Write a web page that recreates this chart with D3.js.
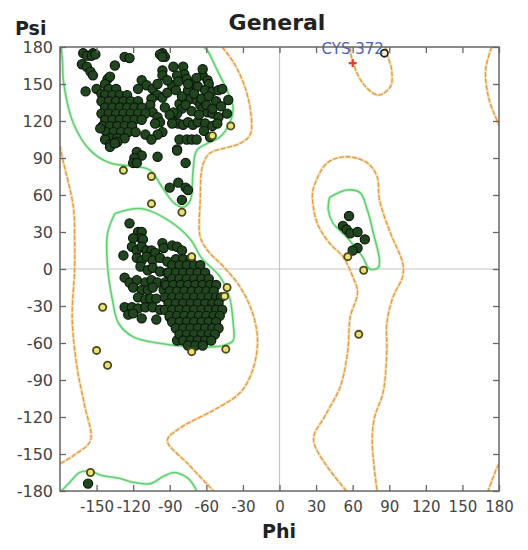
<!DOCTYPE html>
<html><head><meta charset="utf-8">
<script src="https://cdn.jsdelivr.net/npm/d3@7"></script>
<style>body{margin:0;background:#fff}svg{display:block}</style>
</head><body>
<svg id="c" width="528" height="550"></svg>
<script>
// ---------- data (phi, psi in degrees) ----------
const xTicks = [-150,-120,-90,-60,-30,0,30,60,90,120,150,180];
const yTicks = [-180,-150,-120,-90,-60,-30,0,30,60,90,120,150,180];
const allTicks = [-180,-150,-120,-90,-60,-30,0,30,60,90,120,150,180];

const greenBeta = [[-62,180],[-59,177],[-51,161],[-43,145],[-38,131],[-41,118],[-49,107],[-59,102],[-68,96],[-71,78],[-73,56],[-79,50],[-87,54],[-96,66],[-106,80],[-117,83],[-139,86],[-155,96],[-169,118],[-177,151],[-178,168],[-179,180]];
const greenBetaBottom = [[-179,-180],[-172,-173],[-164,-165],[-155,-164],[-147,-167],[-130,-170],[-120,-173],[-106,-174],[-95,-168],[-87,-165],[-76,-169],[-70,-176],[-68,-180]];
const greenAlpha = [[-135,45],[-114,49],[-92,40],[-73,24],[-64,9],[-49,-6],[-41,-23],[-38,-44],[-38,-58],[-46,-62],[-73,-63],[-100,-60],[-120,-55],[-132,-44],[-137,-25],[-141,2],[-141,29],[-135,45]];
const greenAlphaL = [[41,58],[55,64],[66,62],[72,48],[77,29],[82,7],[81,1],[74,0],[68,10],[55,26],[44,37],[40,48],[41,58]];

const orangeMain = [[-47,180],[-38,168],[-30,152],[-24,130],[-24,109],[-32,102],[-41,99],[-57,94],[-63,84],[-65,56],[-65,26],[-59,15],[-46,2],[-32,-15],[-22,-36],[-18,-58],[-22,-82],[-32,-100],[-55,-115],[-80,-128],[-92,-139],[-75,-158],[-54,-180]];
const orangeLeftEdge = [[-180,100],[-178,90],[-169,50],[-168,24],[-168,0],[-170,-40],[-166,-80],[-160,-110],[-155,-139],[-167,-150],[-180,-158]];
const orangeRightTop = [[174,180],[169,161],[172,137],[180,117]];
const orangeRightBottom = [[180,-158],[178,-162],[171,-180]];
const orangeTopLoop = [[58,180],[59,172],[68,151],[81,141],[91,148],[92,161],[88,175],[87,180]];
const orangeAlphaL = [[55,-180],[28,-139],[38,-118],[50,-95],[56,-66],[58,-39],[64,-19],[60,-6],[52,10],[41,21],[31,37],[27,58],[28,66],[39,86],[55,91],[72,86],[80,75],[82,56],[91,29],[101,5],[101,-6],[93,-23],[88,-44],[88,-66],[85,-100],[78,-120],[76,-139],[80,-180]];

const favoredPhi = [
 -161,-155,-153,-158,-154,-151,-127,-123,-162,-158,-155,-153,-135,-141,-143,-139,-159,-150,-146,-113,-109,-116,-102,-96,-94,
 -98,-96,-96,-96,-87,-79,-78,-84,-63,-59,-58,-104,-100,-105,-96,-92,-88,-83,-76,-72,-67,-61,-55,-50,-47,-42,-43,
 -73,-68,-65,-63,-59,-55,-50,-82,-80,-84,-87,-106,-104,-100,-98,-102,-96,-100,-87,-83,-79,-75,-71,-67,-61,-55,-51,
 -82,-76,-72,-68,-84,-85,-80,-75,-70,-64,-58,-52,-77,-72,-66,-60,-55,-48,-90,-94,-88,-62,-57,-100,-92,-68,-63,-75,
 -140,-134,-143,-137,-131,-125,-146,-140,-134,-128,-122,-116,-143,-137,-131,-125,-119,-113,-146,-140,-134,-128,-122,-116,-110,
 -143,-137,-131,-125,-119,-113,-145,-139,-133,-127,-121,-142,-136,-130,-124,-118,-139,-133,-127,-147,-143,-139,-133,-110,-105,
 -139,-135,-117,-113,-119,-120,-117,-100,-84,-77,-90,-83,-77,-75,-80,
 -123,-116,-113,-114,-120,-112,-121,-117,-113,-109,-105,-102,-96,-95,-88,-84,-80,-128,
 -117,-113,-109,-104,-98,-92,-114,-108,-104,-98,-92,-127,-123,-117,-110,-105,-100,-94,-120,-113,-108,-104,-95,
 -116,-110,-106,-101,-127,-121,-116,-110,-104,-98,-124,-120,-113,-101,-90,-84,
 -85,-79,-73,-88,-82,-76,-70,-65,-91,-85,-79,-73,-67,-61,-88,-82,-76,-70,-64,-58,-93,-87,-81,-75,-69,-63,-57,-52,
 -90,-84,-78,-72,-66,-60,-54,-94,-88,-82,-76,-70,-64,-58,-52,-48,-91,-85,-79,-73,-67,-61,-55,-50,
 -94,-88,-82,-76,-70,-64,-58,-52,-47,-90,-84,-78,-72,-66,-60,-54,-49,-88,-82,-76,-70,-64,-58,-52,
 -85,-79,-73,-67,-61,-55,-50,-82,-76,-70,-64,-58,-53,-79,-73,-67,-61,-56,-75,-69,-63,
 -157,
 57,52,55,58,64,70,64,60
];
const favoredPsi = [
 175,173,175,173,173,174,172,171,166,164,160,157,165,154,150,156,144,146,142,153,149,146,141,175,
 172,174,172,161,157,164,164,158,157,157,153,150,146,141,138,139,143,149,152,154,150,148,145,144,145,146,137,126,
 138,137,133,130,127,126,123,134,130,126,127,133,127,123,119,118,111,109,119,118,117,119,117,119,118,116,118,
 105,105,105,105,97,145,140,145,142,138,140,136,133,128,125,133,130,132,125,131,118,112,107,150,153,155,162,150,
 146,146,141,141,141,141,136,136,136,136,136,136,131,131,131,131,131,131,126,126,126,126,126,126,126,
 121,121,121,121,121,121,116,116,116,116,116,111,111,111,111,111,106,106,106,114,105,101,103,109,105,
 99,102,95,92,90,86,86,91,96,86,66,70,66,64,56,
 37,30,30,25,25,24,18,15,18,15,15,13,21,17,19,18,15,11,
 9,7,10,7,9,6,2,-1,1,-2,-3,-7,-11,-9,-11,-9,-11,-11,-15,-17,-17,-15,-17,
 -23,-25,-24,-24,-31,-31,-32,-31,-31,-33,-37,-36,-40,-41,-39,-58,
 8,8,8,3,3,3,3,3,-3,-3,-3,-3,-3,-3,-8,-8,-8,-8,-8,-8,-13,-13,-13,-13,-13,-13,-13,-13,
 -18,-18,-18,-18,-18,-18,-18,-23,-23,-23,-23,-23,-23,-23,-23,-23,-28,-28,-28,-28,-28,-28,-28,-28,
 -33,-33,-33,-33,-33,-33,-33,-33,-33,-38,-38,-38,-38,-38,-38,-38,-38,-43,-43,-43,-43,-43,-43,-43,
 -48,-48,-48,-48,-48,-48,-48,-53,-53,-53,-53,-53,-53,-58,-58,-58,-58,-58,-62,-62,-62,
 -174,
 43,35,32,29,30,24,17,15
];
const allowedPhi = [-128,-105,-105,-80,-40,-55,-72,-43,-45,-145,-72,-44,-150,-141,-155,56,69,65];
const allowedPsi = [80,75,53,46,116,108,10,-15,-22,-31,-67,-65,-66,-78,-165,10,-1,-53];
const outlierPhi = [60];
const outlierPsi = [167];
const outlierLabel = ["CYS 372"];
const ringPhi = [86];
const ringPsi = [175];

// ---------- drawing ----------
const svg = d3.select("#c");
const x = d3.scaleLinear().domain([-180,180]).range([60,499]);
const y = d3.scaleLinear().domain([-180,180]).range([491,47]);

svg.append("defs").append("clipPath").attr("id","clip")
  .append("rect").attr("x",60).attr("y",47).attr("width",439).attr("height",444);

const plot = svg.append("g").attr("clip-path","url(#clip)");

// grid lines at zero
plot.append("line").attr("x1",x(0)).attr("x2",x(0)).attr("y1",y(-180)).attr("y2",y(180))
  .attr("stroke","#c4c4c4").attr("stroke-width",1.2);
plot.append("line").attr("x1",x(-180)).attr("x2",x(180)).attr("y1",y(0)).attr("y2",y(0))
  .attr("stroke","#c4c4c4").attr("stroke-width",1.2);

const line = d3.line().x(d=>x(d[0])).y(d=>y(d[1])).curve(d3.curveCatmullRom.alpha(0.5));

[orangeMain, orangeLeftEdge, orangeRightTop, orangeRightBottom, orangeTopLoop, orangeAlphaL].forEach(c=>{
  plot.append("path").attr("d",line(c)).attr("fill","none")
    .attr("stroke","#f3d7a0").attr("stroke-width",3.2).attr("opacity",0.6);
  plot.append("path").attr("d",line(c)).attr("fill","none")
    .attr("stroke","#df9d4a").attr("stroke-width",1.4).attr("stroke-dasharray","5,1.5");
});
[greenBeta, greenBetaBottom, greenAlpha, greenAlphaL].forEach(c=>{
  plot.append("path").attr("d",line(c)).attr("fill","none")
    .attr("stroke","#c9f0cf").attr("stroke-width",3.5).attr("opacity",0.7);
  plot.append("path").attr("d",line(c)).attr("fill","none")
    .attr("stroke","#5fd06f").attr("stroke-width",1.6);
});

// favored points
const fav = favoredPhi.map((p,i)=>[p,favoredPsi[i]]);
plot.selectAll("circle.fav").data(fav).enter().append("circle").attr("class","fav")
  .attr("cx",d=>x(d[0])).attr("cy",d=>y(d[1])).attr("r",4.6)
  .attr("fill","#21461f").attr("stroke","#0c170c").attr("stroke-width",1.2);

// allowed points
const alw = allowedPhi.map((p,i)=>[p,allowedPsi[i]]);
plot.selectAll("circle.alw").data(alw).enter().append("circle").attr("class","alw")
  .attr("cx",d=>x(d[0])).attr("cy",d=>y(d[1])).attr("r",3.6)
  .attr("fill","#e9e27a").attr("stroke","#4b4a18").attr("stroke-width",1.8);

const rng = ringPhi.map((p,i)=>[p,ringPsi[i]]);
plot.selectAll("circle.rng").data(rng).enter().append("circle").attr("class","rng")
  .attr("cx",d=>x(d[0])).attr("cy",d=>y(d[1])).attr("r",3.6)
  .attr("fill","#f4f0d0").attr("stroke","#222").attr("stroke-width",1.8);

// outlier
const out = outlierPhi.map((p,i)=>[p,outlierPsi[i],outlierLabel[i]]);
out.forEach(d=>{
  const cx=x(d[0]), cy=y(d[1]);
  svg.append("path").attr("d",`M${cx-4},${cy}H${cx+4}M${cx},${cy-4}V${cy+4}`)
    .attr("stroke","#e2412a").attr("stroke-width",2.2);
  svg.append("text").attr("x",cx).attr("y",cy-9).attr("text-anchor","middle")
    .attr("font-family","DejaVu Sans, sans-serif").attr("font-size",15)
    .attr("fill","#4a5fc0").text(d[2]);
});

// axes
const fam = "DejaVu Sans, sans-serif";
const fmt = d => String(d);
const gx = svg.append("g").attr("transform",`translate(0,${y(-180)})`)
  .call(d3.axisBottom(x).tickValues(xTicks).tickSize(-6).tickPadding(8).tickFormat(fmt));
const gy = svg.append("g").attr("transform",`translate(${x(-180)},0)`)
  .call(d3.axisLeft(y).tickValues(yTicks).tickSize(-6).tickPadding(7).tickFormat(fmt));
const gt = svg.append("g").attr("transform",`translate(0,${y(180)})`)
  .call(d3.axisTop(x).tickValues(allTicks).tickSize(-6).tickFormat(""));
const gr = svg.append("g").attr("transform",`translate(${x(180)},0)`)
  .call(d3.axisRight(y).tickValues(allTicks).tickSize(-6).tickFormat(""));
[gx,gy,gt,gr].forEach(g=>{
  g.select(".domain").remove();
  g.selectAll(".tick line").attr("stroke","#666").attr("stroke-width",1.3);
  g.selectAll(".tick text").attr("font-family",fam).attr("font-size",16).attr("fill","#444");
});
gx.selectAll(".tick text").attr("dy","0.85em").attr("font-size",15);

svg.append("rect").attr("x",x(-180)).attr("y",y(180)).attr("width",x(180)-x(-180)).attr("height",y(-180)-y(180))
  .attr("fill","none").attr("stroke","#666").attr("stroke-width",1.5);

// titles
svg.append("text").attr("x",277).attr("y",30).attr("text-anchor","middle")
  .attr("font-family",fam).attr("font-weight","bold").attr("font-size",22).attr("fill","#222").text("General");
svg.append("text").attr("x",15).attr("y",35)
  .attr("font-family",fam).attr("font-weight","bold").attr("font-size",19).attr("fill","#222").text("Psi");
svg.append("text").attr("x",279).attr("y",538).attr("text-anchor","middle")
  .attr("font-family",fam).attr("font-weight","bold").attr("font-size",19).attr("fill","#222").text("Phi");
</script>
</body></html>
